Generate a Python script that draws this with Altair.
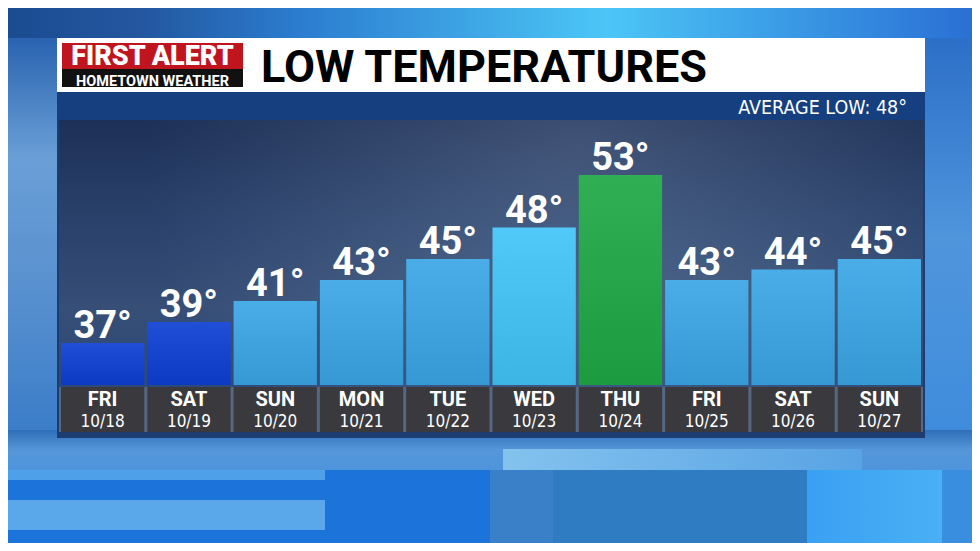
import altair as alt
import pandas as pd

# ---- data ----
days = ["FRI", "SAT", "SUN", "MON", "TUE", "WED", "THU", "FRI", "SAT", "SUN"]
dates = ["10/18", "10/19", "10/20", "10/21", "10/22", "10/23", "10/24", "10/25", "10/26", "10/27"]
lows = [37, 39, 41, 43, 45, 48, 53, 43, 44, 45]
title_text = "LOW TEMPERATURES"
avg_low = 48
logo_top = "FIRST ALERT"
logo_bottom = "HOMETOWN WEATHER"

df = pd.DataFrame({"day": days, "date": dates, "temp": lows})
df["label"] = df["temp"].astype(str) + "°"

W, H = 964, 535
one = pd.DataFrame({"k": [0]})
FONT = "Roboto"
COND = "Liberation Sans Narrow, DejaVu Sans Condensed, Roboto"


def grad(stops, horizontal=False):
    return alt.Gradient(
        gradient="linear",
        stops=[alt.GradientStop(color=c, offset=o) for o, c in stops],
        x1=0, y1=0, x2=1 if horizontal else 0, y2=0 if horizontal else 1,
    )


def rgrad(stops, cx, cy, r):
    return alt.Gradient(
        gradient="radial",
        stops=[alt.GradientStop(color=c, offset=o) for o, c in stops],
        x1=cx, y1=cy, r1=0, x2=cx, y2=cy, r2=r,
    )


def box(x1, x2, y1, y2, fill, opacity=1.0):
    return alt.Chart(one).mark_rect(fill=fill, opacity=opacity).encode(
        x=alt.value(x1), x2=alt.value(x2), y=alt.value(y1), y2=alt.value(y2)
    )


def label(text, x, y, size, color="white", weight="bold", align="center",
          baseline="middle", font=FONT):
    return alt.Chart(one).mark_text(
        text=text, fontSize=size, color=color, fontWeight=weight, align=align,
        baseline=baseline, font=font,
    ).encode(x=alt.value(x), y=alt.value(y))


# ---- background decoration (pixel positions of the plot area) ----
deco = [
    box(0, W, 0, H, "#1c74da"),
    box(0, W, 0, 30, grad([(0, "#1b4c92"), (0.14, "#23579f"), (0.3, "#2b7ccf"), (0.62, "#4cc6f6"),
                           (0.8, "#3b9ce6"), (1, "#2a70d4")], horizontal=True)),
    box(0, 49, 30, 430, grad([(0, "#2a63b0"), (0.3, "#6a9fd6"), (0.6, "#5a92d0"), (1, "#3a7cc8")])),
    box(917, W, 30, 430, grad([(0, "#2c6fc8"), (0.5, "#4f95dc"), (1, "#3f8cdc")])),
    box(0, W, 422, 462, grad([(0, "#2f6fb8"), (0.5, "#5496d8"), (1, "#4f95dc")])),
    box(495, 854, 441, 462, grad([(0, "#8ccaf2"), (1, "#5aa6e6")], horizontal=True), 0.85),
    box(0, 317, 462, 472, "#4ea0e8"),
    box(0, 317, 492, 522, "#5aa8ea"),
    box(482, 545, 462, H, "#3a80c8"),
    box(545, 799, 462, H, "#2f7cc2"),
    box(799, 934, 462, H, grad([(0, "#3aa0f2"), (1, "#4ab0f4")], horizontal=True)),
    box(934, W, 462, H, "#3a8ee0"),
    # panel
    box(49, 917, 84, 430, "#1c3a6c", 0.95),
    box(49, 917, 84, 112, "#163f80"),
    box(51, 915, 112, 424, grad([(0, "#18294f"), (0.35, "#2b436c"), (0.6, "#3b537a"),
                                 (0.85, "#2e4c7c"), (1, "#2a4d80")])),
    box(51, 915, 112, 424, rgrad([(0, "#9fb3cf"), (1, "#2b436c")], 0.6, 0.35, 0.5), 0.28),
    box(49, 917, 30, 84, "white"),
    box(54, 235, 35, 61, "#c0141f"),
    box(54, 235, 61, 79, "#111111"),
    box(51, 915, 379, 424, "#566781"),
]

texts = [
    label(logo_top, 144.5, 57, 27, weight=900, baseline="alphabetic"),
    label(logo_bottom, 144.5, 77.5, 14.5, baseline="alphabetic"),
    label(title_text, 253, 74, 45, color="black", align="left", baseline="alphabetic"),
    label(f"AVERAGE LOW: {avg_low}°", 899, 100, 19.5, align="right", font=COND, weight=500),
]

# ---- data layers ----
xs = alt.X("date:N", sort=dates, axis=None,
           scale=alt.Scale(range=[53, 913], paddingInner=0.035, paddingOuter=0))
ys = alt.Y("temp:Q", axis=None, scale=alt.Scale(domain=[33, 33 + 377 / 10.5], range=[377, 0]))
base = alt.Chart(df)

bars = base.mark_bar().encode(
    x=xs, y=ys, y2=alt.datum(33),
    color=alt.Color("temp:Q", legend=None,
                    scale=alt.Scale(type="threshold", domain=[40, 47, 50],
                                    range=["#0e3fd3", "#3aa6e6", "#42c4f7", "#1ea845"])),
)
sheen = base.mark_bar(
    fill=grad([(0, "#ffffff"), (1, "#000000")]), opacity=0.08
).encode(x=xs, y=ys, y2=alt.datum(33))
cells = base.mark_rect(color="#3a3a3e").encode(x=xs, y=alt.value(379), y2=alt.value(424))
day_txt = base.mark_text(color="white", fontSize=20, fontWeight="bold", font=FONT,
                         baseline="alphabetic").encode(x=xs, y=alt.value(398), text="day:N")
date_txt = base.mark_text(color="white", fontSize=17, font=COND,
                          baseline="alphabetic").encode(x=xs, y=alt.value(419), text="date:N")
temp_txt = base.mark_text(color="white", fontSize=38, fontWeight="bold", font=FONT,
                          baseline="alphabetic", dy=-5).encode(x=xs, y=ys, text="label:N")

chart = alt.layer(*deco, *texts, bars, sheen, cells, day_txt, date_txt, temp_txt).properties(
    width=W, height=H, padding=0, autosize="none", background="#1f6fd2"
).configure_view(stroke=None)

chart.save("out.html", embed_options={"renderer": "svg", "actions": False})
